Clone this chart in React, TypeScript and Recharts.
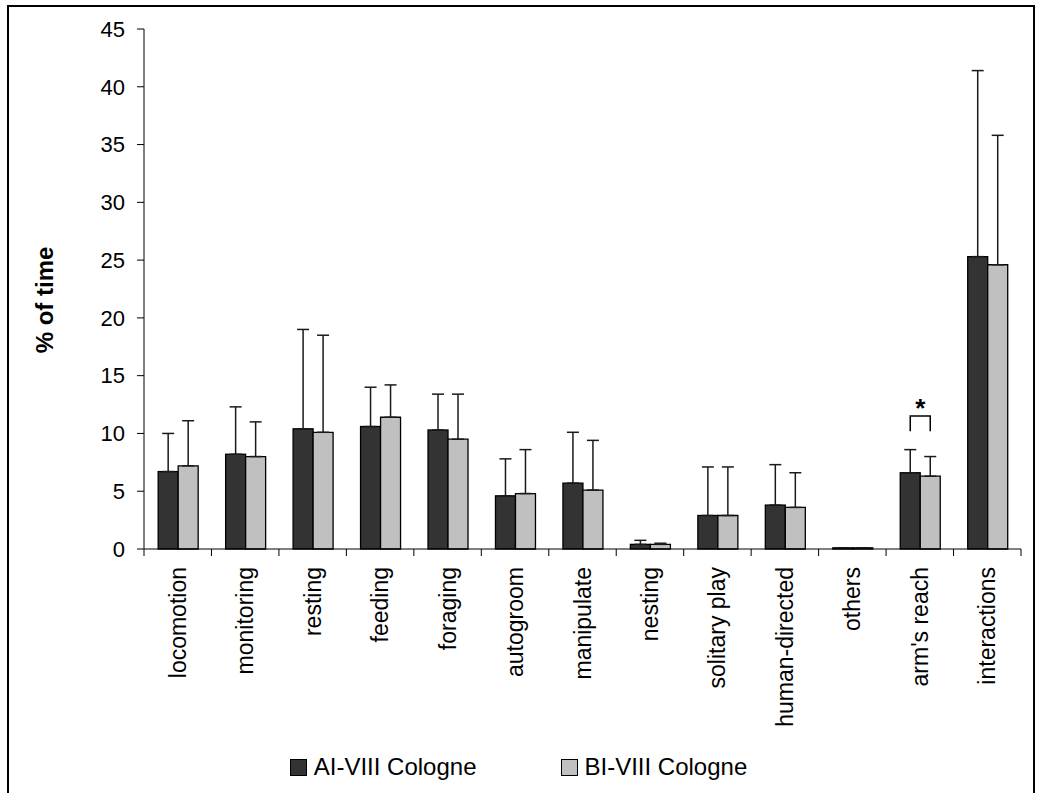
import React from 'react';
import { BarChart, Bar, XAxis, YAxis, ErrorBar } from 'recharts';

const categories = [
  'locomotion',
  'monitoring',
  'resting',
  'feeding',
  'foraging',
  'autogroom',
  'manipulate',
  'nesting',
  'solitary play',
  'human-directed',
  'others',
  "arm's reach",
  'interactions',
];

// mean % of time per group
const meanAI = [6.7, 8.2, 10.4, 10.6, 10.3, 4.6, 5.7, 0.4, 2.9, 3.8, 0.1, 6.6, 25.3];
const meanBI = [7.2, 8.0, 10.1, 11.4, 9.5, 4.8, 5.1, 0.4, 2.9, 3.6, 0.1, 6.3, 24.6];
// upper error (SD)
const sdAI = [3.3, 4.1, 8.6, 3.4, 3.1, 3.2, 4.4, 0.35, 4.2, 3.5, 0, 2.0, 16.1];
const sdBI = [3.9, 3.0, 8.4, 2.8, 3.9, 3.8, 4.3, 0.1, 4.2, 3.0, 0, 1.7, 11.2];

const yTicks = [0, 5, 10, 15, 20, 25, 30, 35, 40, 45];
const seriesNames = ['AI-VIII Cologne', 'BI-VIII Cologne'];
const seriesColors = ['#333333', '#c0c0c0'];

// significance marker
const sigCategory = "arm's reach";
const sigBracket = [10.2, 11.5]; // legs bottom, bracket top

const FONT = 'Arial, "Liberation Sans", Helvetica, sans-serif';
const W = 1037;
const H = 793;
const PLOT_LEFT = 144;
const PLOT_RIGHT = 1021;
const PLOT_TOP = 29;
const PLOT_BOTTOM = 549;
const Y_AXIS_W = 60;

const data = categories.map((name, i) => ({
  name,
  a: meanAI[i],
  b: meanBI[i],
  aErr: [0, sdAI[i]],
  bErr: [0, sdBI[i]],
}));

const XTick = (props: any) => {
  const { x, y, payload } = props;
  const bw = (PLOT_RIGHT - PLOT_LEFT) / categories.length;
  const isLast = payload.value === categories[categories.length - 1];
  return (
    <g>
      <line x1={x - bw / 2} x2={x - bw / 2} y1={y} y2={y + 7} stroke="#000" strokeWidth={1} />
      {isLast && <line x1={x + bw / 2} x2={x + bw / 2} y1={y} y2={y + 7} stroke="#000" strokeWidth={1} />}
      <text
        transform={`translate(${x},${y}) rotate(-90)`}
        x={-18}
        y={0}
        dy="0.35em"
        textAnchor="end"
        fontSize={23}
        fontFamily={FONT}
        fill="#000"
      >
        {payload.value}
      </text>
    </g>
  );
};

// dark bar, plus the bracket + asterisk over the significant pair
const DarkBar = (props: any) => {
  const { x, y, width, height, payload } = props;
  const rect = (
    <rect x={x} y={y} width={width} height={height} fill={seriesColors[0]} stroke="#000" strokeWidth={1.3} />
  );
  if (!payload || payload.name !== sigCategory || !payload.a) return rect;
  const perUnit = height / payload.a;
  const base = y + height;
  const legY = base - sigBracket[0] * perUnit;
  const topY = base - sigBracket[1] * perUnit;
  const x1 = x + width / 2;
  const x2 = x + width * 1.5;
  return (
    <g>
      {rect}
      <path d={`M${x1},${legY}V${topY}H${x2}V${legY}`} fill="none" stroke="#000" strokeWidth={1.5} />
      <text x={(x1 + x2) / 2} y={topY + 1} textAnchor="middle" fontSize={26} fontWeight="bold" fontFamily={FONT} fill="#000">
        *
      </text>
    </g>
  );
};

const YLabel = () => (
  <text
    x={53}
    y={300}
    transform="rotate(-90, 53, 300)"
    textAnchor="middle"
    fontSize={24}
    fontWeight="bold"
    fontFamily={FONT}
    fill="#000"
  >
    % of time
  </text>
);

export default function App() {
  return (
    <div style={{ position: 'absolute', left: 0, top: 0, width: W, height: H, overflow: 'hidden', background: '#fff' }}>
      <div
        style={{
          position: 'absolute',
          left: 7,
          top: 5,
          width: W - 9,
          height: H + 40,
          border: '2px solid #000',
          boxSizing: 'border-box',
        }}
      />
      <div style={{ position: 'absolute', left: 0, top: 0 }}>
        <BarChart
          width={W}
          height={H}
          data={data}
          margin={{ top: PLOT_TOP, right: W - PLOT_RIGHT, bottom: 0, left: PLOT_LEFT - Y_AXIS_W }}
          barCategoryGap="21%"
          barGap={0}
        >
          <XAxis
            dataKey="name"
            height={H - PLOT_BOTTOM}
            interval={0}
            tickLine={false}
            tickSize={0}
            tickMargin={0}
            axisLine={{ stroke: '#000', strokeWidth: 1 }}
            tick={<XTick />}
          />
          <YAxis
            width={Y_AXIS_W}
            domain={[0, 45]}
            ticks={yTicks}
            interval={0}
            tickSize={7}
            tickMargin={12}
            axisLine={{ stroke: '#000', strokeWidth: 1 }}
            tickLine={{ stroke: '#000', strokeWidth: 1 }}
            tick={{ fill: '#000', fontSize: 22, fontFamily: FONT }}
            label={YLabel}
          />
          <Bar dataKey="a" name={seriesNames[0]} fill={seriesColors[0]} shape={<DarkBar />} isAnimationActive={false}>
            <ErrorBar dataKey="aErr" direction="y" width={6} stroke="#1a1a1a" strokeWidth={1.5} />
          </Bar>
          <Bar dataKey="b" name={seriesNames[1]} fill={seriesColors[1]} stroke="#000" strokeWidth={1.3} isAnimationActive={false}>
            <ErrorBar dataKey="bErr" direction="y" width={6} stroke="#1a1a1a" strokeWidth={1.5} />
          </Bar>
        </BarChart>
      </div>
      <div
        style={{
          position: 'absolute',
          left: 0,
          top: 755,
          width: W,
          display: 'flex',
          justifyContent: 'center',
          gap: 84,
          fontFamily: FONT,
          fontSize: 24,
          lineHeight: '24px',
          color: '#000',
        }}
      >
        {seriesNames.map((n, i) => (
          <div key={n} style={{ display: 'flex', alignItems: 'center' }}>
            <span
              style={{
                display: 'inline-block',
                width: 17,
                height: 17,
                boxSizing: 'border-box',
                border: '1px solid #000',
                background: seriesColors[i],
                marginRight: 7,
              }}
            />
            <span>{n}</span>
          </div>
        ))}
      </div>
    </div>
  );
}
